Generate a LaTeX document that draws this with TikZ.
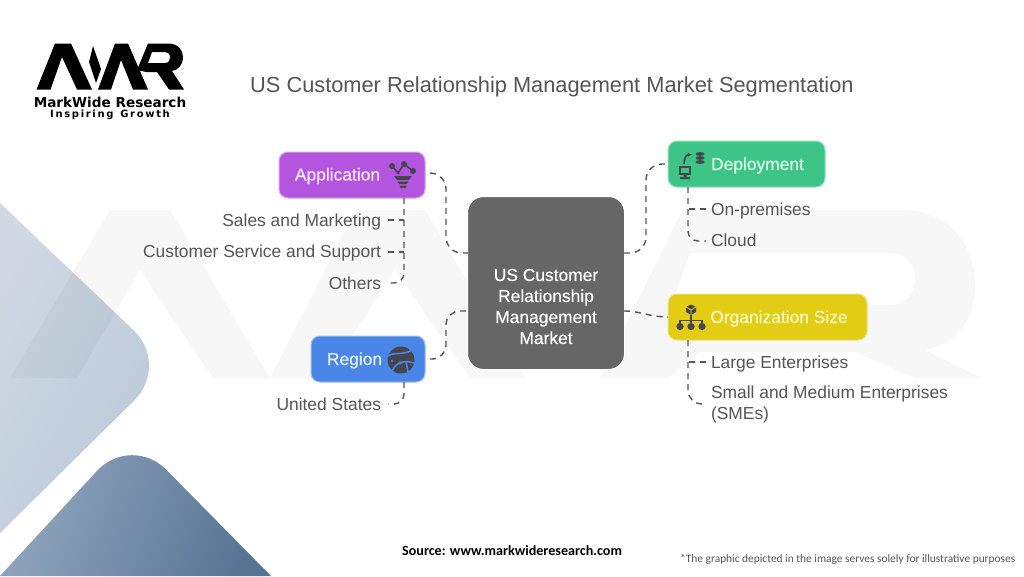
\documentclass[tikz,border=0pt]{standalone}
\usepackage{fontspec}
\setmainfont{Liberation Sans}
\newfontfamily\medf[FakeBold=0.3]{Liberation Sans}
\newfontfamily\carl{Carlito}
\newfontfamily\logofont{DejaVu Sans}
\usetikzlibrary{arrows.meta,shapes.geometric}
\definecolor{txtgray}{HTML}{555555}
\definecolor{icondark}{HTML}{45454F}
\definecolor{connc}{HTML}{555555}
\definecolor{cbd}{HTML}{CFD8E3}
\definecolor{bcd}{HTML}{B9C8D7}
\definecolor{dk1}{HTML}{92A7C0}
\definecolor{dk2}{HTML}{587494}
\definecolor{centerg}{HTML}{666666}
\definecolor{appc}{HTML}{B455DF}
\definecolor{regc}{HTML}{4A86E8}
\definecolor{depc}{HTML}{3DC587}
\definecolor{orgc}{HTML}{E3CC14}
\definecolor{applab}{HTML}{F8E8FF}
\definecolor{reglab}{HTML}{E6F0FF}
\definecolor{deplab}{HTML}{DDFBEC}
\definecolor{orglab}{HTML}{FFF8C8}
\tikzset{
  x=1pt,y=-1pt,
  catbox/.style={draw=#1!55!white,line width=1pt,fill=#1,rounded corners=9pt,minimum height=46pt,inner sep=0pt,outer sep=0pt},
  cattext/.style={font=\medf\fontsize{17.4}{21}\selectfont,inner sep=0pt,anchor=base},
  itemtext/.style={font=\fontsize{17.4}{21}\selectfont,text=txtgray,inner sep=0pt,outer sep=0pt},
  conn/.style={draw=connc,line width=1.4pt,dash pattern=on 6pt off 5pt},
  iconline/.style={draw=icondark,line width=1.6pt},
  wm/.style={fill=black,opacity=.03,even odd rule},
}
\begin{document}
\begin{tikzpicture}
\useasboundingbox (0,0) rectangle (1024,576);
\fill[white] (0,0) rectangle (1024,576);
% background shapes
\shade[left color=cbd,right color=bcd,shading angle=60] (0,203) [rounded corners=50pt] -- (170,365) [sharp corners] -- (0,533) -- cycle;
\shade[left color=dk1,right color=dk2,shading angle=70] (0,576) [rounded corners=50pt] -- (131,434) [sharp corners] -- (271,576) -- cycle;
% watermark
\path[wm] (10,378) -- (110,210) -- (170,210) -- (270,378) -- (213,378) -- (140,270) -- (77,378) -- cycle;
\path[wm] (270,378) -- (355,210) -- (425,210) -- (525,378) -- (470,378) -- (395,270) -- (325,378) -- cycle;
\path[wm] (600,378) -- (682,210) -- (900,210) .. controls (950,210) and (975,245) .. (975,285) .. controls (975,320) and (955,345) .. (925,350) -- (982,378) -- (915,378) -- (855,352) -- (700,352) -- (668,378) -- cycle
 (690,253) -- (672,305) -- (890,305) .. controls (905,305) and (915,295) .. (915,280) .. controls (915,262) and (905,253) .. (890,253) -- cycle;
% logo
\fill[black] (36.5,89.5) -- (55,43.5) -- (71,43.5) -- (92,89.5) -- (77,89.5) -- (62,57) -- (50.5,89.5) -- cycle;
\fill[black] (93,46) -- (101,69) -- (96,83) -- (89,62) -- cycle;
\fill[black] (98,89.5) -- (115,43.5) -- (128,43.5) -- (148,89.5) -- (133,89.5) -- (121,60) -- (111,89.5) -- cycle;
\fill[black,even odd rule] (137,70) -- (148,43.5) -- (168,43.5) .. controls (178,43.5) and (183,50) .. (183,57) .. controls (183,65) and (178,70) .. (172,71) -- (184,89.5) -- (169,89.5) -- (157,72) -- (146,72) -- cycle
 (152,52) -- (148,63) -- (165,63) .. controls (169,63) and (170,60) .. (170,57.5) .. controls (170,54) and (168,52) .. (165,52) -- cycle;
\node[inner sep=0pt,anchor=base,font=\logofont\bfseries\fontsize{13.6}{15}\selectfont,text=black] (brand) at (110,107) {MarkWide Research};
\node[inner sep=0pt,anchor=base,font=\logofont\bfseries\fontsize{10}{11}\selectfont,text=black] (tag) at (110,117.5) {I\,n\,s\,p\,i\,r\,i\,n\,g\, \,G\,r\,o\,w\,t\,h};
% title
\node[inner sep=0pt,anchor=base west,font=\fontsize{21.8}{26}\selectfont,text=txtgray] (title) at (250,92) {US Customer Relationship Management Market Segmentation};
% centre
\node[draw=white,line width=1pt,fill=centerg,rounded corners=16pt,minimum width=157pt,minimum height=173pt,inner sep=0pt] (center) at (546,283) {};
\node[inner sep=0pt,text=white,align=center,font=\medf\fontsize{17.4}{21}\selectfont] (centerlabel) at (546,306.5) {US Customer\\Relationship\\Management\\Market};
% category boxes
\node[catbox=appc,minimum width=146pt] (app) at (352,175) {};
\node[cattext,text=applab] (applabel) at (337.5,180.5) {Application};
\node[catbox=regc,minimum width=114pt] (reg) at (368,359) {};
\node[cattext,text=reglab] (reglabel) at (354.5,365) {Region};
\node[catbox=depc,minimum width=157pt] (dep) at (746.5,164) {};
\node[cattext,text=deplab] (deplabel) at (757.5,170) {Deployment};
\node[catbox=orgc,minimum width=199pt] (org) at (767.5,317) {};
\node[cattext,text=orglab] (orglabel) at (779,323) {Organization Size};
% items
\node[itemtext,anchor=base east] (sales) at (381,226) {Sales and Marketing};
\node[itemtext,anchor=base east] (cust) at (381,257) {Customer Service and Support};
\node[itemtext,anchor=base east] (others) at (381,289) {Others};
\node[itemtext,anchor=base east] (us) at (381,410) {United States};
\node[itemtext,anchor=base west] (onprem) at (711,215) {On-premises};
\node[itemtext,anchor=base west] (cloud) at (711,246.5) {Cloud};
\node[itemtext,anchor=base west] (large) at (711,368) {Large Enterprises};
\node[itemtext,anchor=north west,align=left] (sme) at (711,386) {Small and Medium Enterprises\\(SMEs)};
% anchors for connectors
\coordinate (appbus) at (404,198);
\coordinate (regbus) at (404,382);
\coordinate (depbus) at (688,187);
\coordinate (orgbus) at (688,340);
\coordinate (cw1) at (468,253);
\coordinate (cw2) at (468,311);
\coordinate (ce1) at (624,253);
\coordinate (ce2) at (624,311);
\coordinate (salesb) at (388,220);
\coordinate (custb) at (388,252);
\coordinate (othb) at (388,283);
\coordinate (usb) at (388,404);
\coordinate (onb) at (706,209);
\coordinate (clb) at (706,241);
\coordinate (lgb) at (706,362);
\coordinate (smeb) at (706,404);
% main connectors
\draw[conn,rounded corners=16pt] (app.east) ++(5,-2) -- ++(16,0) -- (446,253) -- (cw1);
\draw[conn,rounded corners=14pt] (reg.east) ++(5,0) -- ++(16,0) -- (446,311) -- (cw2);
\draw[conn,rounded corners=16pt] (ce1) -- (646,253) -- (646,164) -- ([xshift=-3pt]dep.west);
\draw[conn] (ce2) .. controls (640,311) and (650,317) .. (org.west);
% item connectors
\draw[conn,rounded corners=10pt] (appbus) -- (404,283) -- (othb);
\draw[conn] (salesb) -- (404,220);
\draw[conn] (custb) -- (404,252);
\draw[conn,rounded corners=10pt] (regbus) -- (404,404) -- (usb);
\draw[conn,rounded corners=10pt] (depbus) -- (688,241) -- (clb);
\draw[conn] (onb) -- (688,209);
\draw[conn,rounded corners=14pt] (orgbus) -- (688,404) -- (smeb);
\draw[conn] (lgb) -- (688,362);
% application icon
\draw[iconline] (392,166) -- (398,173) -- (404,164) -- (413,171);
\fill[icondark] (392,166) circle (3) (404,164) circle (3) (413,171) circle (3) (398,173) circle (1.5);
\fill[icondark] (394,176) -- (412,176) -- (409,180) -- (397,180) -- cycle;
\fill[icondark] (397.5,181.5) -- (408.5,181.5) -- (407,184) -- (399,184) -- cycle;
\fill[icondark] (399.5,185.5) -- (406.5,185.5) -- (405.5,188) -- (400.5,188) -- cycle;
% region icon
\fill[icondark] (401,360) circle (13.5);
\draw[regc,line width=1.6pt] (388,356) .. controls (396,351) and (402,356) .. (412,350);
\draw[regc,line width=1.6pt] (392,371) .. controls (396,362) and (405,360) .. (414,363);
\draw[regc,line width=1.6pt] (406,361) -- (408,372);
\fill[regc] (400,363) circle (1.8) (392,361) circle (1.3);
% deployment icon
\draw[icondark,line width=2pt,fill=depc] (680,167) rectangle (690,174);
\fill[icondark] (683.5,174) rectangle (686.5,177) (680,177) rectangle (690,179);
\draw[icondark,line width=1.7pt,-{Latex[length=4pt,width=4pt]}] (684,164) .. controls (684,158) and (686,155) .. (692,154.5);
\foreach \yy in {154,158,162}{\fill[icondark] (700,\yy) ellipse (4.5 and 1.9);}
% organization icon
\fill[icondark] (691,304.5) -- (696,307) -- (696,312) -- (691,315) -- (686,312) -- (686,307) -- cycle;
\draw[orgc,line width=.8pt] (686,307) -- (691,310) -- (696,307) (691,310) -- (691,315);
\draw[icondark,line width=1.8pt] (691,315) -- (691,326) (680,326) -- (680,320.5) -- (702,320.5) -- (702,326);
\fill[icondark] (680,326.5) circle (3.6) (691,326.5) circle (3.6) (702,326.5) circle (3.6);
% footer
\node[inner sep=0pt,anchor=base west,font=\carl\bfseries\fontsize{14.1}{15}\selectfont,text=black] (source) at (402,555) {Source: www.markwideresearch.com};
\node[inner sep=0pt,anchor=base west,font=\carl\fontsize{11.4}{13}\selectfont,text=txtgray] (note) at (680,562) {*The graphic depicted in the image serves solely for illustrative purposes};
\end{tikzpicture}
\end{document}
